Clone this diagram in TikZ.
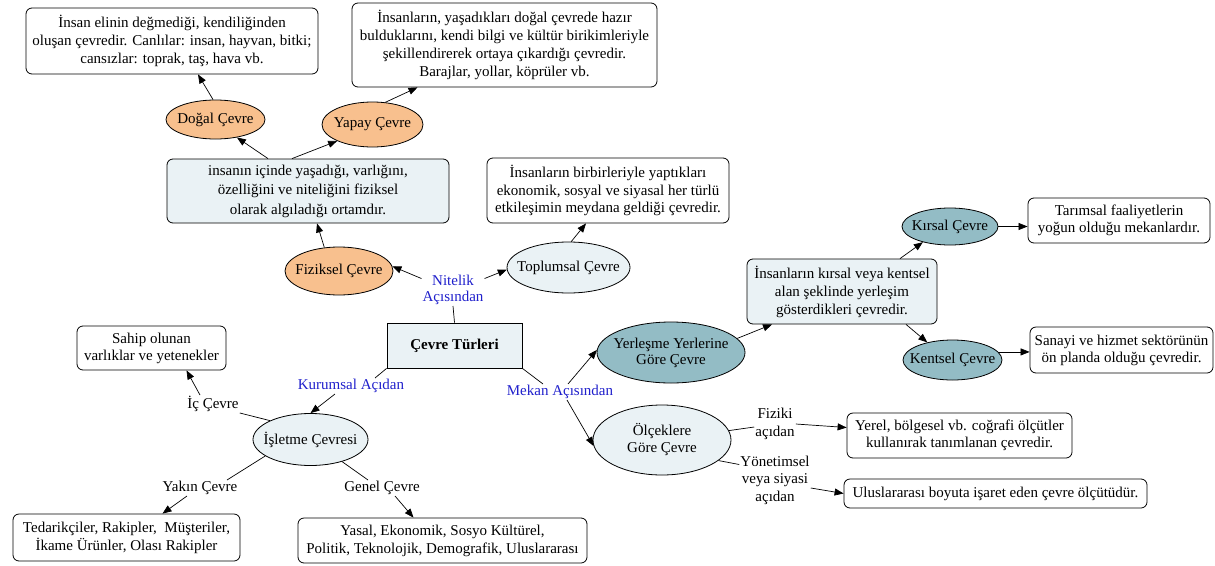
\documentclass[tikz,border=0pt]{standalone}
\usepackage{fontspec}
\setmainfont{Liberation Serif}
\usetikzlibrary{shapes.geometric,arrows.meta}
\definecolor{orf}{HTML}{F8C08E}
\definecolor{ltf}{HTML}{EAF2F5}
\definecolor{tlf}{HTML}{93BCC5}
\definecolor{lblue}{HTML}{2020CC}
\begin{document}
\begin{tikzpicture}[x=1pt,y=-1pt,
  every node/.style={font=\fontsize{15}{18}\selectfont, align=center},
  rbox/.style={draw, rounded corners=6pt, inner sep=0pt, line width=0.8pt},
  sqbox/.style={draw, inner sep=0pt, line width=0.8pt},
  ell/.style={draw, ellipse, inner sep=0pt, line width=0.8pt},
  ltxt/.style={inner sep=0pt},
  lbl/.style={inner sep=1pt, font=\fontsize{15}{17}\selectfont},
  blbl/.style={lbl, text=lblue},
  arr/.style={-{Triangle[length=9pt,width=7pt]}, line width=0.7pt},
  ln/.style={line width=0.7pt}]
\useasboundingbox (0,0) rectangle (1215,565);
\fill[white] (0,0) rectangle (1215,565);

% top-left
\node[rbox, minimum width=292pt, minimum height=66pt] (dogdesc) at (172,41)
  {İnsan elinin değmediği, kendiliğinden\\oluşan çevredir. Canlılar: insan, hayvan, bitki;\\cansızlar: toprak, taş, hava vb.};
\node[rbox, minimum width=305pt, minimum height=84pt] (yapdesc) at (504.5,45)
  {İnsanların, yaşadıkları doğal çevrede hazır\\bulduklarını, kendi bilgi ve kültür birikimleriyle\\şekillendirerek ortaya çıkardığı çevredir.\\Barajlar, yollar, köprüler vb.};
\node[ell, fill=orf, minimum width=99pt, minimum height=39pt, label={[ltxt]center:Doğal Çevre}] (dogal) at (215.5,119.5) {};
\node[ell, fill=orf, minimum width=101pt, minimum height=45pt, label={[ltxt]center:Yapay Çevre}] (yapay) at (372.5,124.5) {};
\node[rbox, fill=ltf, minimum width=282pt, minimum height=64pt, font=\fontsize{15}{19.5}\selectfont] (fizdesc) at (308,191)
  {insanın içinde yaşadığı, varlığını,\\özelliğini ve niteliğini fiziksel\\olarak algıladığı ortamdır.};
\node[rbox, minimum width=242pt, minimum height=65pt, font=\fontsize{15}{17.5}\selectfont] (topdesc) at (608,190.5)
  {İnsanların birbirleriyle yaptıkları\\ekonomik, sosyal ve siyasal her türlü\\etkileşimin meydana geldiği çevredir.};
\node[ell, fill=orf, minimum width=108pt, minimum height=48pt, label={[ltxt]center:Fiziksel Çevre}] (fiziksel) at (339,271) {};
\node[ell, fill=ltf, minimum width=123pt, minimum height=51pt, label={[ltxt]center:Toplumsal Çevre}] (toplumsal) at (568.5,267.5) {};

% center
\node[sqbox, fill=ltf, minimum width=135pt, minimum height=45pt, font=\fontsize{15}{18}\selectfont\bfseries] (root) at (454.5,345.5) {Çevre Türleri};
\node[blbl, font=\fontsize{15}{16}\selectfont] (nitelik) at (453,290) {Nitelik\\Açısından};
\node[blbl] (kurumsal) at (351,386) {Kurumsal Açıdan};
\node[blbl] (mekan) at (560,392) {Mekan Açısından};

% right
\node[ell, fill=tlf, minimum width=148pt, minimum height=61pt, label={[ltxt, font=\fontsize{15}{16}\selectfont]center:Yerleşme Yerlerine\\Göre Çevre}] (yerlesme) at (671,352.5) {};
\node[ell, fill=ltf, minimum width=138pt, minimum height=70pt, label={[ltxt, font=\fontsize{15}{17}\selectfont]center:Ölçeklere\\Göre Çevre}] (olcek) at (662,440) {};
\node[rbox, fill=ltf, minimum width=190pt, minimum height=65pt] (yerdesc) at (842,291.5)
  {İnsanların kırsal veya kentsel\\alan şeklinde yerleşim\\gösterdikleri çevredir.};
\node[ell, fill=tlf, minimum width=96pt, minimum height=37pt, label={[ltxt]center:Kırsal Çevre}] (kirsal) at (950,226.5) {};
\node[ell, fill=tlf, minimum width=99pt, minimum height=40pt, label={[ltxt]center:Kentsel Çevre}] (kentsel) at (952.5,360) {};
\node[rbox, minimum width=182pt, minimum height=45pt, font=\fontsize{15}{17}\selectfont] (tarim) at (1119,220.5)
  {Tarımsal faaliyetlerin\\yoğun olduğu mekanlardır.};
\node[rbox, minimum width=183pt, minimum height=46pt, font=\fontsize{15}{17}\selectfont] (sanayi) at (1121.5,350)
  {Sanayi ve hizmet sektörünün\\ön planda olduğu çevredir.};
\node[lbl, font=\fontsize{15}{18}\selectfont] (fiziki) at (775,424) {Fiziki\\açıdan};
\node[rbox, minimum width=225pt, minimum height=45pt, font=\fontsize{15}{17}\selectfont] (yerel) at (959.5,435.5)
  {Yerel, bölgesel vb. coğrafi ölçütler\\kullanırak tanımlanan çevredir.};
\node[lbl, font=\fontsize{15}{17.5}\selectfont] (yonetim) at (775,480) {Yönetimsel\\veya siyasi\\açıdan};
\node[rbox, minimum width=303pt, minimum height=29pt] (ulus) at (995.5,493.5)
  {Uluslararası boyuta işaret eden çevre ölçütüdür.};

% bottom-left
\node[ell, fill=ltf, minimum width=115pt, minimum height=52pt, label={[ltxt]center:İşletme Çevresi}] (isletme) at (310.5,439.5) {};
\node[rbox, minimum width=149pt, minimum height=44pt, font=\fontsize{15}{17}\selectfont] (sahip) at (151.5,348)
  {Sahip olunan\\varlıklar ve yetenekler};
\node[lbl] (ic) at (213,404) {İç Çevre};
\node[lbl] (yakin) at (200,488) {Yakın Çevre};
\node[lbl] (genel) at (382,488) {Genel Çevre};
\node[rbox, minimum width=227pt, minimum height=47pt, font=\fontsize{15}{18}\selectfont] (tedarik) at (126.5,537.5)
  {Tedarikçiler, Rakipler,\ \ Müşteriler,\\İkame Ürünler, Olası Rakipler};
\node[rbox, minimum width=289pt, minimum height=45pt, font=\fontsize{15}{18}\selectfont] (yasal) at (442.5,540.5)
  {Yasal, Ekonomik, Sosyo Kültürel,\\Politik, Teknolojik, Demografik, Uluslararası};

% connectors: top
\draw[arr] ([xshift=-40pt]fizdesc.north) -- (dogal.-40);
\draw[arr] ([xshift=-16pt]fizdesc.north) -- (yapay.205);
\draw[arr] (dogal.97) -- ([xshift=26pt]dogdesc.south);
\draw[arr] (yapay.60) -- ([xshift=-87pt]yapdesc.south);
\draw[arr] (fiziksel.122) -- ([xshift=9pt]fizdesc.south);
\draw[arr] (toplumsal.84) -- ([xshift=-22pt]topdesc.south);
\draw[ln] (root.north) -- (nitelik.south);
\draw[arr] (nitelik.160) -- (fiziksel.5);
\draw[arr] (nitelik.20) -- (toplumsal.182);

% connectors: right
\draw[ln] (root.south east) -- ([xshift=-17pt]mekan.north);
\draw[arr] ([xshift=8pt]mekan.north) -- (yerlesme.178);
\draw[arr] ([xshift=7pt]mekan.south) -- (olcek.185);
\draw[arr] (yerlesme.12) -- ([xshift=-70pt]yerdesc.south);
\draw[arr] ([xshift=58pt]yerdesc.north) -- (kirsal.210);
\draw[arr] ([xshift=64pt]yerdesc.south) -- (kentsel.145);
\draw[arr] (kirsal.east) -- (kirsal.east -| tarim.west);
\draw[arr] (kentsel.10) -- (kentsel.10 -| sanayi.west);
\draw[ln] (olcek.8) -- ([yshift=-3pt]fiziki.west);
\draw[arr] (fiziki.east) -- ([yshift=8pt]yerel.west);
\draw[ln] (olcek.-20) -- ([yshift=-10pt]yonetim.north west);
\draw[arr] ([yshift=-8pt]yonetim.east) -- (ulus.west);

% connectors: bottom-left
\draw[ln] (root.south west) -- ([xshift=24pt]kurumsal.north);
\draw[arr] ([xshift=-16pt]kurumsal.south) -- (isletme.north);
\draw[ln] (isletme.155) -- (ic.south east);
\draw[arr] ([xshift=-13pt]ic.north) -- ([xshift=35pt]sahip.south);
\draw[ln] (isletme.200) -- ([xshift=27pt]yakin.north);
\draw[arr] ([xshift=-13pt]yakin.south) -- ([xshift=36pt]tedarik.north);
\draw[ln] (isletme.-35) -- ([xshift=-14pt]genel.north);
\draw[arr] ([xshift=13pt]genel.south) -- ([xshift=-29pt]yasal.north);
\end{tikzpicture}
\end{document}
